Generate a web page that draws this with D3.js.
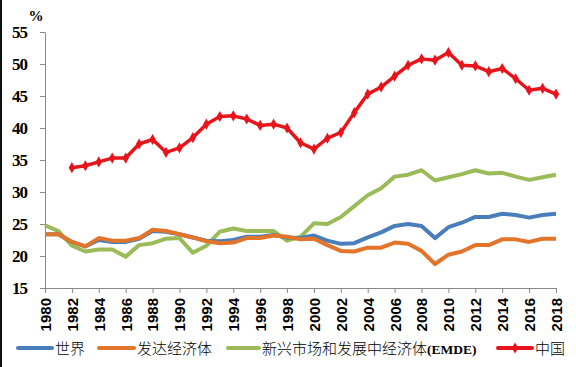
<!DOCTYPE html>
<html lang="zh">

<head>
    <meta charset="UTF-8">
    <title>share</title>
    <style>
        body {
            margin: 0;
            background: #fff;
        }
    </style>
</head>

<body>
    <script src="https://d3js.org/d3.v7.min.js"></script>
    <div id="chart"></div>
    <script>
        // years on the x axis
        var years = d3.range(1980, 2019);
        var tickYears = d3.range(1980, 2019, 2);
        var yTicks = [15, 20, 25, 30, 35, 40, 45, 50, 55];

        // series values
        var world = [23.4, 23.4, 22.2, 21.5, 22.5, 22.2, 22.2, 22.7, 23.9, 23.8, 23.4, 22.9,
            22.4, 22.3, 22.5, 23.0, 23.0, 23.3, 22.9, 22.8, 23.2, 22.4, 21.9, 22.0, 22.9, 23.7,
            24.7, 25.0, 24.7, 22.8, 24.5, 25.2, 26.1, 26.1, 26.6, 26.4, 26.0, 26.4, 26.6];
        var advanced = [23.4, 23.4, 22.2, 21.5, 22.8, 22.4, 22.4, 22.8, 24.1, 23.9, 23.4, 22.9,
            22.3, 22.0, 22.1, 22.8, 22.8, 23.2, 23.0, 22.6, 22.7, 21.7, 20.8, 20.7, 21.3, 21.3,
            22.1, 21.9, 20.8, 18.75, 20.2, 20.7, 21.7, 21.7, 22.6, 22.6, 22.2, 22.7, 22.7];
        var emde = [24.8, 23.9, 21.6, 20.7, 21.0, 21.0, 19.9, 21.7, 22.0, 22.7, 22.8, 20.5,
            21.6, 23.8, 24.3, 23.9, 23.9, 23.9, 22.4, 23.0, 25.1, 25.0, 26.1, 27.8, 29.5, 30.6,
            32.4, 32.7, 33.4, 31.8, 32.3, 32.8, 33.4, 32.9, 33.0, 32.4, 31.9, 32.3, 32.7];
        // China starts in 1982
        var china = [null, null, 33.8, 34.1, 34.7, 35.3, 35.3, 37.5, 38.2, 36.2, 36.9, 38.5,
            40.6, 41.8, 41.9, 41.4, 40.4, 40.6, 40.0, 37.7, 36.7, 38.4, 39.3, 42.4, 45.3, 46.4,
            48.1, 49.8, 50.8, 50.6, 51.8, 49.8, 49.7, 48.8, 49.3, 47.7, 45.9, 46.2, 45.3];

        var names = ["世界", "发达经济体", "新兴市场和发展中经济体", "中国"];
        var colors = ["#4a7ebb", "#e3752b", "#9bbb59", "#e8141b"];

        var margin = { top: 32, right: 20, bottom: 79, left: 45 },
            width = 576 - margin.left - margin.right,
            height = 367 - margin.top - margin.bottom;

        var svg = d3.select("#chart")
            .append("svg")
            .attr("width", 576)
            .attr("height", 367);

        // black edge on the left of the image
        svg.append("rect")
            .attr("x", 0).attr("y", 0)
            .attr("width", 2).attr("height", 367)
            .attr("fill", "#111");

        var g = svg.append("g")
            .attr("transform", "translate(" + margin.left + "," + margin.top + ")");

        var x = d3.scaleLinear()
            .domain([1980, 2018])
            .range([0, width]);

        var y = d3.scaleLinear()
            .domain([15, 55])
            .range([height, 0]);

        // X axis
        var xAxis = g.append("g")
            .attr("transform", "translate(0," + height + ")")
            .call(d3.axisBottom(x).tickValues(tickYears).tickFormat(d3.format("d")).tickSize(5).tickSizeOuter(0));
        xAxis.select(".domain").attr("stroke", "#888");
        xAxis.selectAll(".tick line").attr("stroke", "#888");
        xAxis.selectAll("text")
            .attr("transform", "rotate(-90)")
            .attr("text-anchor", "end")
            .attr("x", -10)
            .attr("y", 0)
            .attr("dy", "0.36em")
            .style("font-family", "Arial, 'Liberation Sans', sans-serif")
            .style("font-weight", "bold")
            .style("font-size", "15px")
            .attr("fill", "#000");

        // Y axis
        var yAxis = g.append("g")
            .call(d3.axisLeft(y).tickValues(yTicks).tickSize(5).tickSizeOuter(0));
        yAxis.select(".domain").attr("stroke", "#888");
        yAxis.selectAll(".tick line").attr("stroke", "#888");
        yAxis.selectAll("text")
            .attr("x", -18)
            .style("font-family", "'Liberation Serif', 'Times New Roman', serif")
            .style("font-weight", "bold")
            .style("font-size", "17px")
            .style("letter-spacing", "-1px")
            .attr("fill", "#000");

        svg.append("text")
            .attr("x", 36).attr("y", 21)
            .attr("text-anchor", "middle")
            .style("font-family", "'Liberation Serif', serif")
            .style("font-weight", "bold")
            .style("font-size", "15px")
            .text("%");

        var line = d3.line()
            .defined(function (d) { return d != null; })
            .x(function (d, i) { return x(years[i]); })
            .y(function (d) { return y(d); });

        var series = [world, advanced, emde];
        // draw emde first so that world/advanced overlap like the picture
        [2, 0, 1].forEach(function (k) {
            g.append("path")
                .datum(series[k])
                .attr("fill", "none")
                .attr("stroke", colors[k])
                .attr("stroke-width", 4)
                .attr("stroke-linejoin", "round")
                .attr("d", line);
        });

        g.append("path")
            .datum(china)
            .attr("fill", "none")
            .attr("stroke", colors[3])
            .attr("stroke-width", 3.5)
            .attr("stroke-linejoin", "round")
            .attr("d", line);

        var diamond = d3.symbol().type(d3.symbolDiamond).size(36);
        g.selectAll(".pt")
            .data(china.map(function (v, i) { return { v: v, yr: years[i] }; }).filter(function (d) { return d.v != null; }))
            .enter()
            .append("path")
            .attr("class", "pt")
            .attr("transform", function (d) { return "translate(" + x(d.yr) + "," + y(d.v) + ")"; })
            .attr("d", diamond)
            .attr("fill", colors[3]);

        // legend
        var legendY = 348;
        var legend = [
            { x0: 18, x1: 52, tx: 55 },
            { x0: 99, x1: 134, tx: 137 },
            { x0: 228, x1: 259, tx: 262 },
            { x0: 498, x1: 532, tx: 535 }
        ];
        legend.forEach(function (l, k) {
            svg.append("line")
                .attr("x1", l.x0).attr("x2", l.x1)
                .attr("y1", legendY).attr("y2", legendY)
                .attr("stroke", colors[k])
                .attr("stroke-width", 4)
                .attr("stroke-linecap", "round");
            if (k == 3) {
                svg.append("path")
                    .attr("transform", "translate(" + ((l.x0 + l.x1) / 2) + "," + legendY + ")")
                    .attr("d", diamond)
                    .attr("fill", colors[3]);
            }
            var t = svg.append("text")
                .attr("x", l.tx).attr("y", legendY + 5.5)
                .style("font-family", "'Noto Sans CJK SC', sans-serif")
                .style("font-size", "15px")
                .style("font-weight", 300)
                .attr("fill", "#000")
                .text(names[k]);
            if (k == 2) {
                t.append("tspan")
                    .style("font-family", "'Liberation Serif', serif")
                    .style("font-weight", "bold")
                    .style("font-size", "13.5px")
                    .text("(EMDE)");
            }
        });
    </script>
</body>

</html>
